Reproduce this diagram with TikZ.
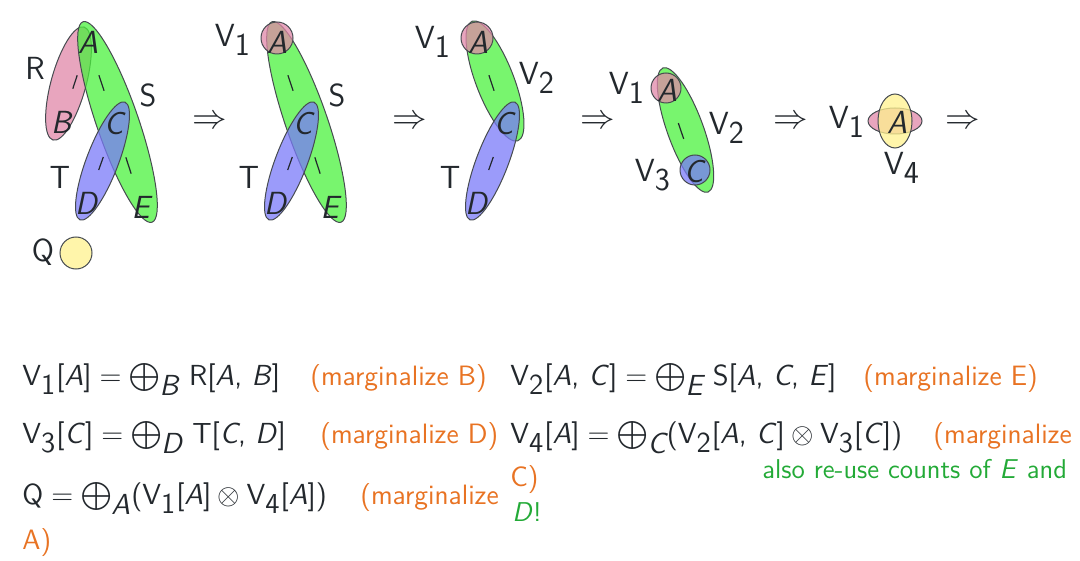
\documentclass[tikz,border=0pt]{standalone}
\definecolor{txt}{RGB}{35,40,45}
\definecolor{edgec}{RGB}{70,75,80}
\definecolor{pinkf}{RGB}{224,135,168}
\definecolor{greenf}{RGB}{75,241,61}
\definecolor{bluef}{RGB}{121,121,248}
\definecolor{yellowf}{RGB}{255,242,142}
\definecolor{orangec}{RGB}{232,115,35}
\definecolor{greenc}{RGB}{35,170,55}
\newcommand{\myV}[1]{V\ensuremath{_{\textsf{#1}}}}
\newcommand{\myI}[1]{\textit{#1}}
\newcommand{\bop}[1]{\ensuremath{\displaystyle\bigoplus\nolimits_{\textit{#1}}}}
\begin{document}
\begin{tikzpicture}[x=0.5pt,y=-0.5pt,
  every node/.style={font=\fontsize{16}{19}\selectfont\sffamily, text=txt, inner sep=0pt},
  eR/.style={fill=pinkf, fill opacity=0.75, draw=edgec, line width=0.5pt},
  eS/.style={fill=greenf, fill opacity=0.75, draw=edgec, line width=0.5pt},
  eT/.style={fill=bluef, fill opacity=0.75, draw=edgec, line width=0.5pt},
  eQ/.style={fill=yellowf, fill opacity=0.75, draw=edgec, line width=0.5pt},
  sepline/.style={draw=txt, line width=0.6pt, shorten >=17.5pt, shorten <=17.5pt},
  eqn/.style={anchor=base west, font=\fontsize{14.5}{17}\selectfont\sffamily},
  org/.style={anchor=base west, font=\fontsize{14}{17}\selectfont\sffamily, text=orangec},
  grn/.style={anchor=base west, font=\fontsize{13.6}{17}\selectfont\sffamily, text=greenc}]
\useasboundingbox (0,0) rectangle (1080,561);

% ---------- diagram 1 ----------
\draw[eR] (68.5,83.5) ellipse [x radius=58.6, y radius=17.5, rotate=-105.3];
\draw[eS] (117.5,122) ellipse [x radius=106, y radius=21, rotate=-71];
\draw[eT] (102.5,161) ellipse [x radius=63, y radius=16, rotate=-110.9];
\draw[eQ] (76,253) circle [radius=16];
\node (a1) at (88,42) {\myI{A}};
\node (b1) at (62,122) {\myI{B}};
\node (c1) at (115,124) {\myI{C}};
\node (d1) at (87,203) {\myI{D}};
\node (e1) at (142,207) {\myI{E}};
\draw[sepline] (a1.center) -- (b1.center);
\draw[sepline] (a1.center) -- (c1.center);
\draw[sepline] (c1.center) -- (d1.center);
\draw[sepline] (c1.center) -- (e1.center);
\node (lr1) at (35,68) {R};
\node (ls1) at (148,95) {S};
\node (lt1) at (60,177) {T};
\node (lq1) at (43,252) {Q};

\node (ar1) at (210,122) {$\Rightarrow$};

% ---------- diagram 2 ----------
\draw[eS] (306.5,122) ellipse [x radius=106, y radius=21, rotate=-71];
\draw[eT] (291.5,161) ellipse [x radius=63, y radius=16, rotate=-110.9];
\draw[eR] (277,38) circle [radius=16];
\node (a2) at (277,42) {\myI{A}};
\node (c2) at (304,124) {\myI{C}};
\node (d2) at (276,203) {\myI{D}};
\node (e2) at (331,207) {\myI{E}};
\draw[sepline] (a2.center) -- (c2.center);
\draw[sepline] (c2.center) -- (d2.center);
\draw[sepline] (c2.center) -- (e2.center);
\node (lv12) at (233,40) {\myV{1}};
\node (ls2) at (337,95) {S};
\node (lt2) at (249,177) {T};

\node (ar2) at (410,122) {$\Rightarrow$};

% ---------- diagram 3 ----------
\draw[eS] (495,81) ellipse [x radius=64, y radius=19, rotate=-69];
\draw[eT] (492.5,161) ellipse [x radius=63, y radius=16, rotate=-110.9];
\draw[eR] (477,38) circle [radius=16];
\node (a3) at (478,42) {\myI{A}};
\node (c3) at (505,124) {\myI{C}};
\node (d3) at (477,203) {\myI{D}};
\draw[sepline] (a3.center) -- (c3.center);
\draw[sepline] (c3.center) -- (d3.center);
\node (lv13) at (433,42) {\myV{1}};
\node (lv23) at (537,78) {\myV{2}};
\node (lt3) at (450,177) {T};

\node (ar3) at (598,122) {$\Rightarrow$};

% ---------- diagram 4 ----------
\draw[eS] (685.5,130) ellipse [x radius=66, y radius=18, rotate=-70];
\draw[eR] (666,88) circle [radius=15];
\draw[eT] (695,170) circle [radius=15];
\node (a4) at (667,90) {\myI{A}};
\node (c4) at (695,172) {\myI{C}};
\draw[sepline] (a4.center) -- (c4.center);
\node (lv14) at (627,88) {\myV{1}};
\node (lv24) at (727,128) {\myV{2}};
\node (lv34) at (653,175) {\myV{3}};

\node (ar4) at (791,122) {$\Rightarrow$};

% ---------- diagram 5 ----------
\draw[eR] (895,121) ellipse [x radius=27, y radius=13];
\draw[eQ] (895,121) ellipse [x radius=17, y radius=27];
\node (a5) at (897,122) {\myI{A}};
\node (lv15) at (847,122) {\myV{1}};
\node (lv45) at (902,168) {\myV{4}};

\node (ar5) at (963,122) {$\Rightarrow$};

% ---------- equations ----------
\node[eqn] (q1) at (22,385) {\myV{1}[\myI{A}]${}={}$\bop{B} R[\myI{A}, \myI{B}]};
\node[org] (m1) at (310,385) {(marginalize B)};
\node[eqn] (q2) at (510,385) {\myV{2}[\myI{A}, \myI{C}]${}={}$\bop{E} S[\myI{A}, \myI{C}, \myI{E}]};
\node[org] (m2) at (863,385) {(marginalize E)};

\node[eqn] (q3) at (22,443) {\myV{3}[\myI{C}]${}={}$\bop{D} T[\myI{C}, \myI{D}]};
\node[org] (m3) at (320,443) {(marginalize D)};
\node[eqn] (q4) at (510,443) {\myV{4}[\myI{A}]${}={}$\bop{C}(\myV{2}[\myI{A}, \myI{C}]${}\otimes{}$\myV{3}[\myI{C}])};
\node[org] (m4) at (933,443) {(marginalize};
\node[org] (m4b) at (510,486) {C)};
\node[grn] (g1) at (762,478) {also re-use counts of \myI{E} and};

\node[eqn] (q5) at (22,504) {Q${}={}$\bop{A}(\myV{1}[\myI{A}]${}\otimes{}$\myV{4}[\myI{A}])};
\node[org] (m5) at (360,504) {(marginalize};
\node[grn] (g2) at (512,521) {\myI{D}!};
\node[org] (m5b) at (22,549) {A)};
\end{tikzpicture}
\end{document}
